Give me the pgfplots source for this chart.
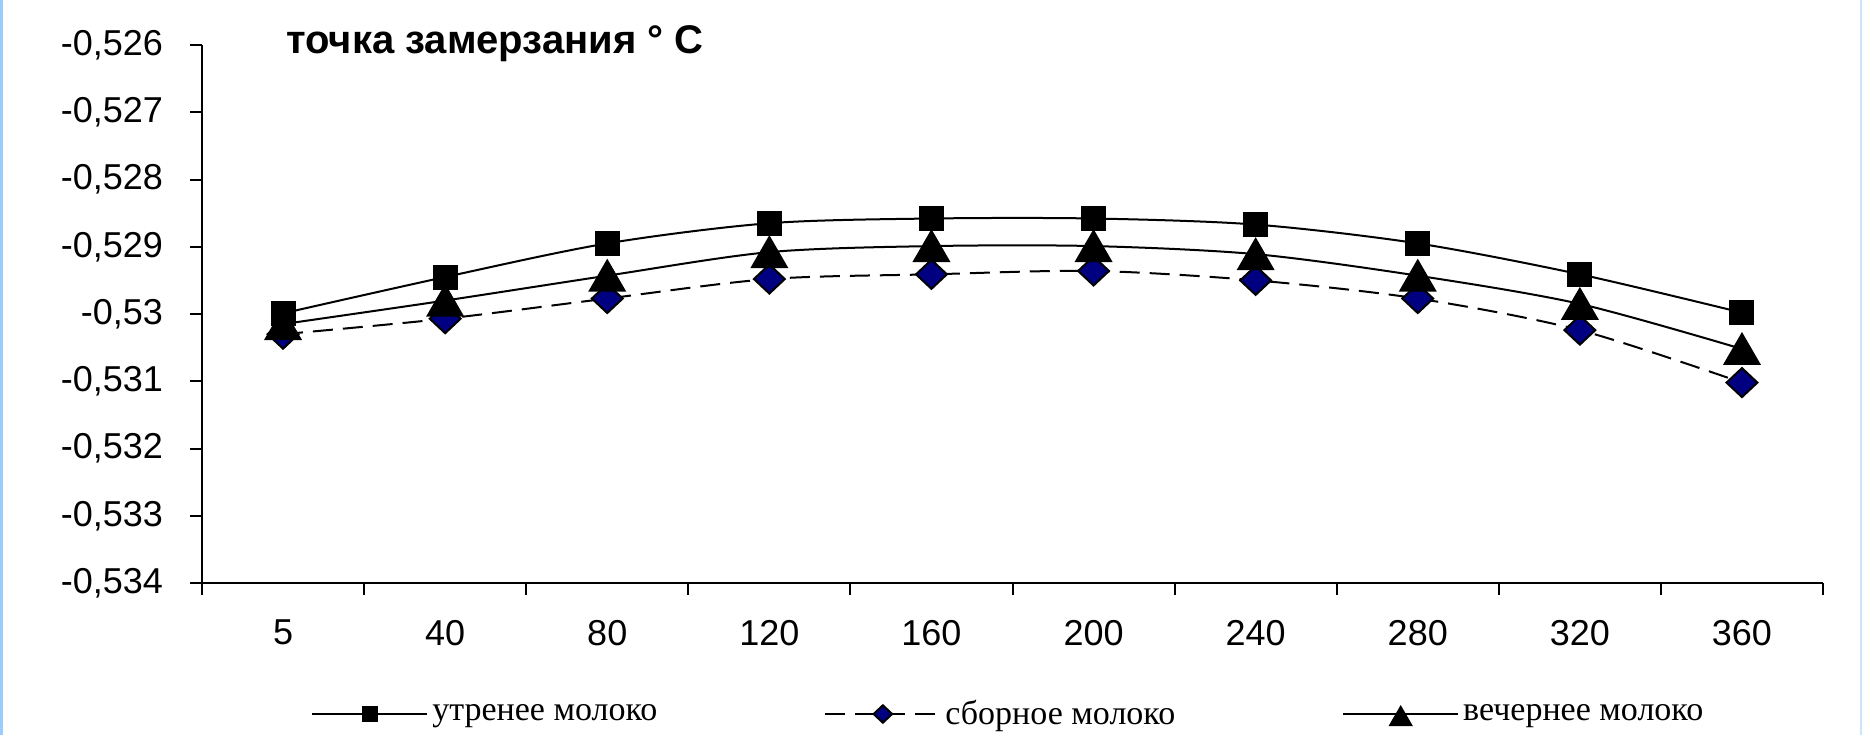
\documentclass[border=0pt]{standalone}
\usepackage{fontspec}
\setmainfont{Liberation Sans}
\newfontfamily\legserif{Liberation Serif}
\usepackage{pgfplots}
\pgfplotsset{compat=1.18}
\definecolor{dnavy}{RGB}{0,0,128}
\definecolor{edgeblue}{RGB}{153,204,255}
\begin{document}
\begin{tikzpicture}
\useasboundingbox (0,0) rectangle (931pt,-367.5pt);
\fill[edgeblue] (0,0) rectangle (1.5pt,-367.5pt);
\fill[edgeblue!50] (930pt,0) rectangle (931pt,-367.5pt);
\begin{axis}[
  at={(101pt,-22.5pt)}, anchor=north west,
  scale only axis, width=810.5pt, height=269pt,
  xmin=-0.5, xmax=9.5, ymin=-0.534, ymax=-0.526,
  axis x line*=bottom, axis y line*=left,
  axis line style={line width=1pt},
  tick align=outside, major tick length=6pt,
  tick style={line width=1pt, black},
  xtick={-0.5,0.5,...,9.5}, xticklabels={},
  extra x ticks={0,1,2,3,4,5,6,7,8,9},
  extra x tick labels={5,40,80,120,160,200,240,280,320,360},
  extra x tick style={major tick length=0pt},
  ytick={-0.534,-0.533,-0.532,-0.531,-0.530,-0.529,-0.528,-0.527,-0.526},
  yticklabels={{-0,534},{-0,533},{-0,532},{-0,531},{-0,53},{-0,529},{-0,528},{-0,527},{-0,526}},
  tick label style={font=\fontsize{18}{21}\selectfont},
  xticklabel style={yshift=-15pt},
  yticklabel style={xshift=-10pt},
  clip=false,
  legend columns=3,
  legend style={draw=none, fill=none, at={(0.498,-0.2435)}, anchor=center,
    font=\legserif\fontsize{17}{20}\selectfont,
    /tikz/every even column/.append style={column sep=81.5pt},
    inner sep=0pt},
  legend image code/.code={\draw[mark repeat=2,mark phase=2,#1,/tikz/every mark/.append style={scale=0.6}] plot coordinates {(0pt,0pt) (28.75pt,0pt) (57.5pt,0pt)};},
]
\addplot[black, line width=1pt, smooth, tension=0.5, mark=square*, mark size=5.75pt, mark options={solid, fill=black}]
 coordinates {(0,-0.52999) (1,-0.52945) (2,-0.52895) (3,-0.52865) (4,-0.52858) (5,-0.52858) (6,-0.52867) (7,-0.52895) (8,-0.52941) (9,-0.52998)};
\addlegendentry{утренее молоко}
\addplot[black, line width=1pt, smooth, tension=0.5, dash pattern=on 10pt off 5pt, mark=diamond*, mark size=7.25pt, mark options={solid, fill=dnavy, draw=black, line width=1pt, xscale=1.42}]
 coordinates {(0,-0.53030) (1,-0.53007) (2,-0.52977) (3,-0.52948) (4,-0.52941) (5,-0.52936) (6,-0.52950) (7,-0.52977) (8,-0.53024) (9,-0.53102)};
\addlegendentry{сборное молоко}
\addplot[black, line width=1pt, smooth, tension=0.5, mark=triangle*, mark size=10pt, mark options={solid, fill=black, yshift=-2.5pt}]
 coordinates {(0,-0.53015) (1,-0.52980) (2,-0.52943) (3,-0.52908) (4,-0.52899) (5,-0.52899) (6,-0.52911) (7,-0.52943) (8,-0.52985) (9,-0.53052)};
\addlegendentry{вечернее молоко}
\end{axis}
\node[anchor=base west, font=\bfseries\fontsize{20}{24}\selectfont, inner sep=0pt] at (143pt,-26.5pt) {точка замерзания ° C};
\end{tikzpicture}
\end{document}
